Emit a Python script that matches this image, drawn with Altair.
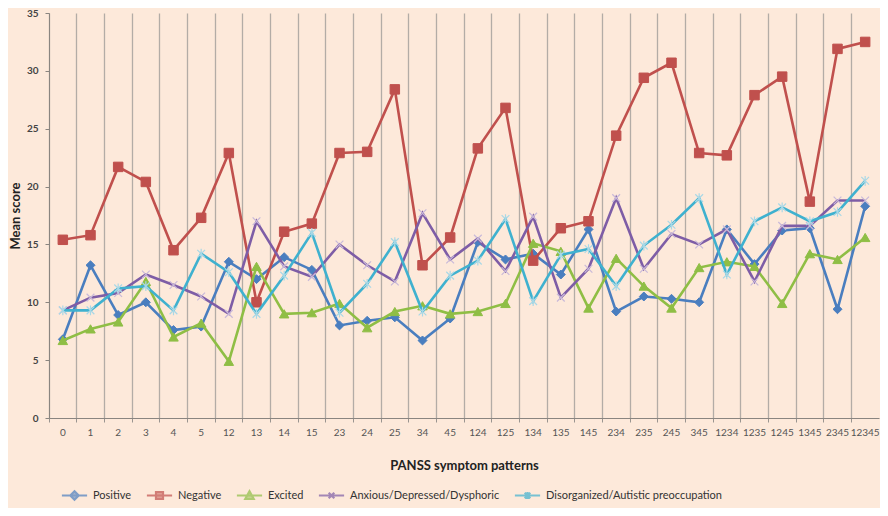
import altair as alt
import pandas as pd

categories = ["0", "1", "2", "3", "4", "5", "12", "13", "14", "15", "23", "24", "25",
              "34", "45", "124", "125", "134", "135", "145", "234", "235", "245", "345",
              "1234", "1235", "1245", "1345", "2345", "12345"]

positive = [6.8, 13.2, 8.9, 10.0, 7.6, 7.9, 13.5, 12.0, 13.9, 12.8, 8.0, 8.4, 8.7,
            6.7, 8.6, 15.2, 13.7, 14.2, 12.4, 16.3, 9.2, 10.5, 10.3, 10.0,
            16.3, 13.3, 16.2, 16.4, 9.4, 18.3]
negative = [15.4, 15.8, 21.7, 20.4, 14.5, 17.3, 22.9, 10.0, 16.1, 16.8, 22.9, 23.0, 28.4,
            13.2, 15.6, 23.3, 26.8, 13.6, 16.4, 17.0, 24.4, 29.4, 30.7, 22.9,
            22.7, 27.9, 29.5, 18.7, 31.9, 32.5]
excited = [6.7, 7.7, 8.3, 11.8, 7.0, 8.2, 4.9, 13.1, 9.0, 9.1, 9.9, 7.8, 9.2,
           9.7, 9.0, 9.2, 9.9, 15.1, 14.4, 9.5, 13.8, 11.4, 9.5, 13.0,
           13.5, 13.1, 9.9, 14.2, 13.7, 15.6]
anxious = [9.3, 10.4, 10.8, 12.4, 11.5, 10.5, 9.0, 17.0, 13.1, 12.2, 15.0, 13.2, 11.8,
           17.7, 13.7, 15.5, 12.7, 17.4, 10.4, 12.9, 19.0, 12.9, 15.9, 15.0,
           16.3, 11.8, 16.6, 16.6, 18.8, 18.8]
disorganized = [9.3, 9.3, 11.2, 11.4, 9.3, 14.2, 12.6, 9.0, 12.3, 16.0, 9.1, 11.6, 15.2,
                9.2, 12.3, 13.6, 17.2, 10.1, 14.1, 14.6, 11.4, 14.9, 16.7, 19.0,
                12.4, 17.0, 18.2, 17.0, 17.8, 20.5]

series_names = ["Positive", "Negative", "Excited", "Anxious/Depressed/Dysphoric",
                "Disorganized/Autistic preoccupation"]
series_values = [positive, negative, excited, anxious, disorganized]
colors = ["#4A7EBF", "#C0504D", "#8FBE45", "#7E5DA6", "#3FB1CF"]

X_PATH = "M-1,-1L1,1M-1,1L1,-1"
STAR_PATH = "M-1,-1L1,1M-1,1L1,-1M0,-1.25L0,1.25"
marker_shapes = ["diamond", "square", "triangle-up", X_PATH, STAR_PATH]
marker_sizes = [80, 90, 90, 60, 60]
marker_filled = [True, True, True, False, False]

LINE = "M-3.6,0L3.6,0"
legend_shapes = [
    LINE + "M0,-1.2L1.2,0L0,1.2L-1.2,0Z",
    LINE + "M-1,-1L1,-1L1,1L-1,1Z",
    LINE + "M0,-1.2L1.2,1L-1.2,1Z",
    LINE + "M-0.8,-0.8L0.8,0.8M-0.8,0.8L0.8,-0.8",
    LINE + "M-0.8,-0.8L0.8,0.8M-0.8,0.8L0.8,-0.8M0,-1L0,1",
]

rows = []
for name, vals in zip(series_names, series_values):
    for cat, v in zip(categories, vals):
        rows.append({"pattern": cat, "score": v, "series": name})
df = pd.DataFrame(rows)

PLOT_W = 830
PLOT_H = 405

x_enc = alt.X(
    "pattern:N",
    sort=categories,
    bandPosition=0.5,
    scale=alt.Scale(type="band", domain=categories, paddingInner=0, paddingOuter=0),
    axis=alt.Axis(
        title="PANSS symptom patterns",
        bandPosition=0,
        labelAngle=0,
        labelOverlap=False,
        labelFont="Lato",
        labelFontSize=10,
        labelColor="#555555",
        labelPadding=5,
        tickSize=4,
        tickColor="#9a9590",
        domainColor="#8a8580",
        grid=True,
        gridColor="#b3aca6",
        gridWidth=1.3,
        titleFont="Lato",
        titleFontSize=13,
        titleFontWeight="bold",
        titleColor="#222222",
        titlePadding=22,
    ),
)
y_enc = alt.Y(
    "score:Q",
    scale=alt.Scale(domain=[0, 35], nice=False),
    axis=alt.Axis(
        title="Mean score",
        values=[0, 5, 10, 15, 20, 25, 30, 35],
        grid=False,
        labelFont="Lato",
        labelFontSize=10,
        labelFontWeight="bold",
        labelColor="#444444",
        labelPadding=7,
        tickSize=4,
        tickColor="#8a8580",
        domainColor="#8a8580",
        titleFont="Lato",
        titleFontSize=13,
        titleFontWeight="bold",
        titleColor="#222222",
        titlePadding=4,
    ),
)

layers = []

legend_layer = alt.Chart(df).transform_filter("false").mark_point(
    filled=True, size=49, strokeWidth=2.2
).encode(
    x=x_enc,
    y=y_enc,
    fill=alt.Fill(
        "series:N",
        scale=alt.Scale(domain=series_names, range=colors),
        legend=alt.Legend(
            title=None,
            orient="none",
            direction="horizontal",
            legendX=20,
            legendY=477,
            padding=0,
            gridAlign="none",
            labelFont="Lato",
            labelFontSize=11,
            labelColor="#333333",
            labelLimit=400,
            symbolSize=49,
            symbolStrokeWidth=2.2,
            labelOffset=13,
            columnPadding=10,
        ),
    ),
    stroke=alt.Stroke("series:N", scale=alt.Scale(domain=series_names, range=colors)),
    shape=alt.Shape("series:N", scale=alt.Scale(domain=series_names, range=legend_shapes)),
)
layers.append(legend_layer)

for i, name in enumerate(series_names):
    base = alt.Chart(df).transform_filter(alt.datum.series == name)
    line = base.mark_line(color=colors[i], strokeWidth=2.6).encode(x=x_enc, y=y_enc)
    if marker_filled[i]:
        pts = base.mark_point(
            shape=marker_shapes[i], size=marker_sizes[i], filled=True,
            fill=colors[i], stroke=colors[i], strokeWidth=1, opacity=1,
        ).encode(x=x_enc, y=y_enc)
    else:
        pts = base.mark_point(
            shape=marker_shapes[i], size=marker_sizes[i], filled=False,
            stroke="#c9b9d9" if i == 3 else "#a9d8e6", strokeWidth=1.2, opacity=1,
        ).encode(x=x_enc, y=y_enc)
    layers.append(line)
    layers.append(pts)

chart = alt.layer(*layers).properties(
    width=PLOT_W,
    height=PLOT_H,
    background="#FDE9DA",
    padding={"left": 41, "top": 5, "right": 1, "bottom": 90},
    autosize=alt.AutoSizeParams(type="none"),
).configure_view(
    fill="#FDE9DA",
    stroke=None,
)

chart.save("out.html", embed_options={"renderer": "svg", "actions": False})
